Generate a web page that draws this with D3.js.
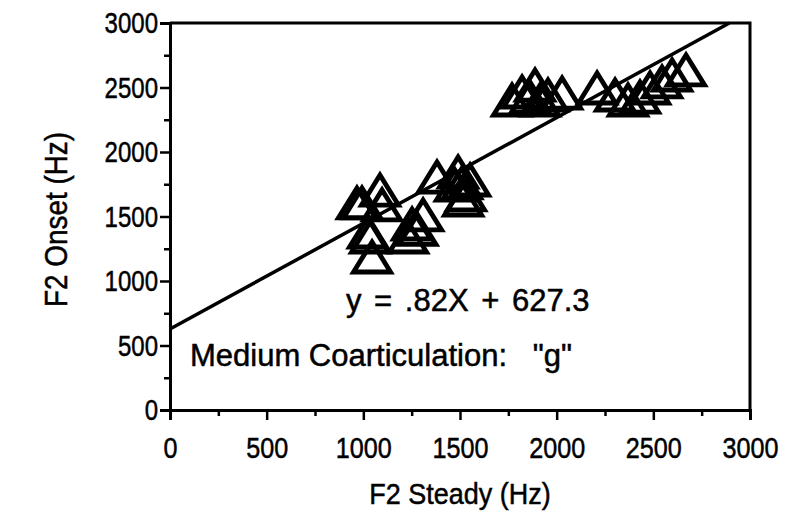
<!DOCTYPE html>
<html>
<head>
<meta charset="utf-8">
<script src="https://cdn.jsdelivr.net/npm/d3@7"></script>
<style>
  html, body { margin: 0; padding: 0; background: #fff; }
  svg { display: block; }
  text { font-family: "Liberation Sans", Arial, Helvetica, sans-serif; fill: #000; stroke: #000; stroke-width: 0.5px; }
</style>
</head>
<body>
<svg id="chart" width="786" height="511"></svg>
<script>
// F2 steady-state frequency (Hz) for each token
const f2Steady = [
  993, 1086, 1097, 967, 1035, 1024, 1045,
  1231, 1252, 1280, 1309,
  1381, 1474, 1490, 1511, 1552, 1531, 1516,
  1769, 1821, 1862, 1888, 1914, 1955, 2028,
  2209, 2302, 2369, 2431, 2483, 2545, 2597, 2669
];
// F2 onset frequency (Hz) for each token
const f2Onset = [
  1605, 1705, 1590, 1605, 1341, 1380, 1186,
  1341, 1442, 1400, 1512,
  1806, 1744, 1845, 1760, 1783, 1667, 1628,
  2403, 2465, 2426, 2519, 2403, 2442, 2457,
  2496, 2442, 2403, 2426, 2496, 2543, 2597, 2636
];
// Fitted regression: onset = slope * steady + intercept
const slope = 0.82;
const intercept = 627.3;
const xTicks = [0, 500, 1000, 1500, 2000, 2500, 3000];
const yTicks = [0, 500, 1000, 1500, 2000, 2500, 3000];
const minorTicks = [250, 750, 1250, 1750, 2250, 2750];
const xTitle = "F2 Steady (Hz)";
const yTitle = "F2 Onset (Hz)";
const eqLabel = "y = .82X + 627.3";
const noteLabel = "Medium Coarticulation:   \"g\"";

const svg = d3.select("#chart");
const margin = { left: 170, top: 23, right: 36, bottom: 101 };
const W = 786, H = 511;
const x = d3.scaleLinear().domain([0, 3000]).range([margin.left, W - margin.right]);
const y = d3.scaleLinear().domain([0, 3000]).range([H - margin.bottom, margin.top]);

const fontSize = 30;

// frame (top and right edges)
svg.append("path")
  .attr("d", `M${x(0)},${y(3000)}H${x(3000)}V${y(0)}`)
  .attr("fill", "none").attr("stroke", "#000").attr("stroke-width", 3);

// x axis
const gx = svg.append("g").attr("transform", `translate(0,${y(0)})`)
  .call(d3.axisBottom(x).tickValues(xTicks).tickFormat(d3.format("d")).tickSize(10).tickPadding(17));
gx.append("g").call(d3.axisBottom(x).tickValues(minorTicks).tickFormat("").tickSize(6));

// y axis
const gy = svg.append("g").attr("transform", `translate(${x(0)},0)`)
  .call(d3.axisLeft(y).tickValues(yTicks).tickFormat(d3.format("d")).tickSize(10).tickPadding(5));
gy.append("g").call(d3.axisLeft(y).tickValues(minorTicks).tickFormat("").tickSize(6));

svg.selectAll(".domain").attr("stroke-width", 3).attr("stroke", "#000");
svg.selectAll(".tick line").attr("stroke-width", 2.5).attr("stroke", "#000");
svg.selectAll(".tick text").style("font-size", fontSize + "px")
  .style("font-family", "'Liberation Sans', Arial, sans-serif").attr("fill", "#000");
gx.selectAll(".tick text").attr("dy", "0.71em").attr("transform", "scale(0.84,1)");
gy.selectAll(".tick text").attr("transform", "scale(0.8,1)");

// axis titles
svg.append("text")
  .attr("transform", `translate(${(x(0) + x(3000)) / 2},504) scale(0.9,1)`)
  .attr("text-anchor", "middle").style("font-size", fontSize + "px").text(xTitle);
svg.append("text")
  .attr("transform", `translate(67,${(y(0) + y(3000)) / 2 + 3}) rotate(-90) scale(0.9,1)`)
  .attr("text-anchor", "middle").style("font-size", "31px").text(yTitle);

// regression line, clipped at the top of the frame
const xEnd = Math.min(3000, (3000 - intercept) / slope);
svg.append("line")
  .attr("x1", x(0)).attr("y1", y(intercept))
  .attr("x2", x(xEnd)).attr("y2", y(slope * xEnd + intercept))
  .attr("stroke", "#000").attr("stroke-width", 3.5);

// hollow triangle markers
const tw = 37, th = 30;
const tri = `M0,${-th / 2}L${tw / 2},${th / 2}L${-tw / 2},${th / 2}Z`;
svg.append("g").selectAll("path")
  .data(f2Steady.map((v, i) => [v, f2Onset[i]]))
  .join("path")
  .attr("transform", d => `translate(${x(d[0])},${y(d[1])})`)
  .attr("d", tri)
  .attr("fill", "none").attr("stroke", "#000")
  .attr("stroke-width", 4.8).attr("stroke-linejoin", "miter");

// annotations
svg.append("text").attr("x", 346).attr("y", 311)
  .style("font-size", "31px").style("word-spacing", "4px").text(eqLabel);
svg.append("text").attr("x", 190).attr("y", 366)
  .style("font-size", "31px").style("white-space", "pre").attr("xml:space", "preserve").text(noteLabel);
</script>
</body>
</html>
